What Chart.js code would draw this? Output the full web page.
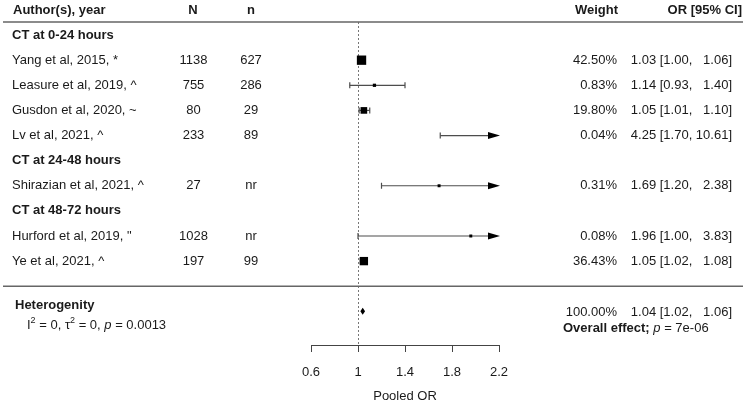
<!DOCTYPE html>
<html>
<head>
<meta charset="utf-8">
<script src="https://cdn.jsdelivr.net/npm/chart.js@4/dist/chart.umd.min.js"></script>
<style>
  html, body { margin: 0; padding: 0; background: #fff; }
  canvas { display: block; }
</style>
</head>
<body>
<canvas id="grafica" width="746" height="404"></canvas>
<script>
// Datos del forest plot
const grupos = ['CT at 0-24 hours', 'CT at 24-48 hours', 'CT at 48-72 hours'];
const estudios = [
  'Yang et al, 2015, *',
  'Leasure et al, 2019, ^',
  'Gusdon et al, 2020, ~',
  'Lv et al, 2021, ^',
  'Shirazian et al, 2021, ^',
  'Hurford et al, 2019, "',
  'Ye et al, 2021, ^'
];
const grupoEstudio = [0, 0, 0, 0, 1, 2, 2];
const totalN = ['1138', '755', '80', '233', '27', '1028', '197'];
const casosN = ['627', '286', '29', '89', 'nr', 'nr', '99'];
const pesos = [42.50, 0.83, 19.80, 0.04, 0.31, 0.08, 36.43];
const orValores = [1.03, 1.14, 1.05, 4.25, 1.69, 1.96, 1.05];
const ciInferior = [1.00, 0.93, 1.01, 1.70, 1.20, 1.00, 1.02];
const ciSuperior = [1.06, 1.40, 1.10, 10.61, 2.38, 3.83, 1.08];
const pesoGlobal = 100;
const orGlobal = 1.04;
const ciGlobalInf = 1.02;
const ciGlobalSup = 1.06;
const pHeterogeneidad = '0.0013';
const pGlobal = '7e-06';
const ticksX = [0.6, 1, 1.4, 1.8, 2.2];

// Tamaño de las cajas (estilo)
const radioCaja = [6.6, 2.3, 4.7, 2.1, 2.1, 2.1, 5.9];

// Filas: cabecera de grupo y luego sus estudios
const filaGrupo = [];
const filaEstudio = [];
let fila = 0;
grupos.forEach((g, gi) => {
  filaGrupo.push(fila++);
  grupoEstudio.forEach((eg, i) => { if (eg === gi) filaEstudio[i] = fila++; });
});
const filaSeparador = fila;
const filaGlobal = fila + 1;

const colorTexto = '#1a1a1a';
const fuente = '"Liberation Sans", Arial, sans-serif';

function fmt(v) { return v.toFixed(2); }
function textoIC(o, lo, hi) {
  return fmt(o) + ' [' + fmt(lo) + ', ' + fmt(hi).padStart(5, ' ').replace(/^ /, '  ') + ']';
}

function dibujarIC(ctx, xs, y, lo, hi) {
  const x1 = xs.getPixelForValue(Math.max(lo, xs.min));
  const recortado = hi > xs.max;
  const x2 = xs.getPixelForValue(Math.min(hi, xs.max));
  ctx.strokeStyle = '#4d4d4d';
  ctx.lineWidth = 1.2;
  ctx.beginPath();
  ctx.moveTo(x1, y);
  ctx.lineTo(recortado ? x2 - 10 : x2, y);
  ctx.stroke();
  ctx.beginPath();
  ctx.moveTo(x1, y - 3);
  ctx.lineTo(x1, y + 3);
  if (!recortado) {
    ctx.moveTo(x2, y - 3);
    ctx.lineTo(x2, y + 3);
  }
  ctx.stroke();
  if (recortado) {
    ctx.fillStyle = '#000';
    ctx.beginPath();
    ctx.moveTo(x2 - 11, y - 3.5);
    ctx.lineTo(x2 + 1, y);
    ctx.lineTo(x2 - 11, y + 3.5);
    ctx.closePath();
    ctx.fill();
  }
}

function textoMixto(ctx, partes, x, y) {
  let cx = x;
  partes.forEach(p => {
    ctx.font = p.font;
    ctx.fillText(p.t, cx, y + (p.dy || 0));
    cx += ctx.measureText(p.t).width;
  });
}

const forestPlugin = {
  id: 'forest',
  beforeDatasetsDraw(chart) {
    const { ctx, chartArea, scales: { x, y } } = chart;
    ctx.save();
    // Línea de referencia en OR = 1
    const xRef = Math.round(x.getPixelForValue(1)) + 0.5;
    ctx.strokeStyle = '#777';
    ctx.lineWidth = 1;
    ctx.setLineDash([2, 2]);
    ctx.beginPath();
    ctx.moveTo(xRef, chartArea.top);
    ctx.lineTo(xRef, chartArea.bottom);
    ctx.stroke();
    ctx.setLineDash([]);
    // Intervalos de confianza
    estudios.forEach((e, i) => {
      dibujarIC(ctx, x, y.getPixelForValue(filaEstudio[i]), ciInferior[i], ciSuperior[i]);
    });
    ctx.restore();
  },
  afterDatasetsDraw(chart) {
    const { ctx, chartArea, scales: { x, y } } = chart;
    const normal = '13px ' + fuente;
    const negrita = 'bold 13px ' + fuente;
    const cursiva = 'italic 13px ' + fuente;
    ctx.save();
    ctx.fillStyle = colorTexto;
    ctx.textBaseline = 'middle';

    // Cabecera
    const yCab = 10;
    ctx.font = negrita;
    ctx.textAlign = 'left';
    ctx.fillText('Author(s), year', 13, yCab);
    ctx.textAlign = 'center';
    ctx.fillText('N', 193, yCab);
    ctx.fillText('n', 251, yCab);
    ctx.textAlign = 'right';
    ctx.fillText('Weight', 618, yCab);
    ctx.fillText('OR [95% CI]', 742, yCab);

    // Líneas horizontales
    ctx.strokeStyle = '#666';
    ctx.lineWidth = 1.5;
    ctx.beginPath();
    ctx.moveTo(3, chartArea.top);
    ctx.lineTo(743, chartArea.top);
    const ySep = y.getPixelForValue(filaSeparador);
    ctx.moveTo(3, ySep);
    ctx.lineTo(743, ySep);
    ctx.stroke();

    // Grupos
    ctx.font = negrita;
    ctx.textAlign = 'left';
    grupos.forEach((g, gi) => ctx.fillText(g, 12, y.getPixelForValue(filaGrupo[gi])));

    // Estudios
    ctx.font = normal;
    estudios.forEach((e, i) => {
      const yy = y.getPixelForValue(filaEstudio[i]);
      ctx.textAlign = 'left';
      ctx.fillText(e, 12, yy);
      ctx.textAlign = 'center';
      ctx.fillText(totalN[i], 193.5, yy);
      ctx.fillText(casosN[i], 251, yy);
      ctx.textAlign = 'right';
      ctx.fillText(fmt(pesos[i]) + '%', 617, yy);
      ctx.fillText(textoIC(orValores[i], ciInferior[i], ciSuperior[i]), 732, yy);
    });

    // Efecto global
    const yG = y.getPixelForValue(filaGlobal);
    ctx.fillStyle = '#000';
    ctx.beginPath();
    ctx.moveTo(x.getPixelForValue(ciGlobalInf), yG);
    ctx.lineTo(x.getPixelForValue(orGlobal), yG - 3.5);
    ctx.lineTo(x.getPixelForValue(ciGlobalSup), yG);
    ctx.lineTo(x.getPixelForValue(orGlobal), yG + 3.5);
    ctx.closePath();
    ctx.fill();

    ctx.fillStyle = colorTexto;
    ctx.textAlign = 'right';
    ctx.font = normal;
    ctx.fillText(fmt(pesoGlobal) + '%', 617, yG + 1);
    ctx.fillText(textoIC(orGlobal, ciGlobalInf, ciGlobalSup), 732, yG + 1);

    ctx.textAlign = 'left';
    textoMixto(ctx, [
      { t: 'Overall effect; ', font: negrita },
      { t: 'p', font: cursiva },
      { t: ' = ' + pGlobal, font: normal }
    ], 563, yG + 17);

    ctx.font = negrita;
    ctx.fillText('Heterogenity', 15, yG - 6);
    const sup = '9px ' + fuente;
    textoMixto(ctx, [
      { t: 'I', font: normal },
      { t: '2', font: sup, dy: -5 },
      { t: ' = 0, \u03c4', font: normal },
      { t: '2', font: sup, dy: -5 },
      { t: ' = 0, ', font: normal },
      { t: 'p', font: cursiva },
      { t: ' = ' + pHeterogeneidad, font: normal }
    ], 27, yG + 14);

    ctx.restore();
  }
};

const ctx = document.getElementById('grafica').getContext('2d');
const grafica = new Chart(ctx, {
  type: 'scatter',
  data: {
    datasets: [{
      data: estudios.map((e, i) => ({ x: orValores[i], y: filaEstudio[i] })),
      pointStyle: 'rect',
      pointRadius: radioCaja,
      pointHoverRadius: radioCaja,
      backgroundColor: '#000',
      borderColor: '#000',
      borderWidth: 0
    }]
  },
  options: {
    responsive: false,
    animation: false,
    events: [],
    layout: {
      padding: { left: 311, right: 247, top: 22, bottom: 0 }
    },
    plugins: {
      legend: { display: false },
      tooltip: { enabled: false }
    },
    scales: {
      x: {
        type: 'linear',
        min: 0.6,
        max: 2.2,
        afterBuildTicks: s => { s.ticks = ticksX.map(v => ({ value: v })); },
        afterFit: s => { s.height = 59; },
        border: { display: true, color: '#444', width: 1 },
        grid: { drawOnChartArea: false, drawTicks: true, tickLength: 7, color: '#444' },
        ticks: {
          color: colorTexto,
          padding: 13,
          maxRotation: 0,
          font: { family: fuente, size: 13 },
          callback: v => String(v)
        },
        title: {
          display: true,
          text: 'Pooled OR',
          color: colorTexto,
          padding: { top: 0, bottom: 0 },
          font: { family: fuente, size: 13 }
        }
      },
      y: {
        type: 'linear',
        display: false,
        reverse: true,
        min: -0.52,
        max: 12.34
      }
    }
  },
  plugins: [forestPlugin]
});
</script>
</body>
</html>
